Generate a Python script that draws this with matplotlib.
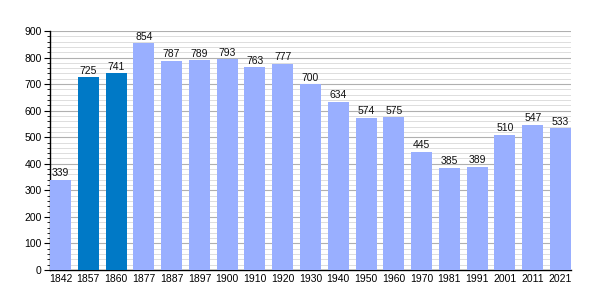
import matplotlib
matplotlib.use('Agg')
import matplotlib.pyplot as plt
from matplotlib.ticker import MultipleLocator

years = ['1842', '1857', '1860', '1877', '1887', '1897', '1900', '1910', '1920', '1930',
         '1940', '1950', '1960', '1970', '1981', '1991', '2001', '2011', '2021']
pop = [339, 725, 741, 854, 787, 789, 793, 763, 777, 700,
       634, 574, 575, 445, 385, 389, 510, 547, 533]
dark_years = ['1857', '1860']

plt.rcParams['font.family'] = ['Liberation Sans', 'DejaVu Sans']

fig = plt.figure(figsize=(6, 3), dpi=100)
ax = fig.add_axes([50/600, 30/300, 521/600, 239/300])

w = 0.757
x = list(range(len(years)))
cols = ['#0079c6' if y in dark_years else '#99afff' for y in years]
ax.bar(x, pop, width=w, color=cols, zorder=3)
for xi, v in zip(x, pop):
    ax.text(xi, v + 6, str(v), ha='center', va='bottom', fontsize=7.5, color='#111111', zorder=4)

ax.set_xlim(-w/2, len(years) - 1 + w/2)
ax.set_ylim(0, 900)
ax.yaxis.set_major_locator(MultipleLocator(100))
ax.yaxis.set_minor_locator(MultipleLocator(20))
ax.grid(axis='y', which='major', color='#b0b0b0', lw=0.8, zorder=0)
ax.grid(axis='y', which='minor', color='#dddddd', lw=0.7, zorder=0)
ax.set_xticks(x)
ax.set_xticklabels(years)
ax.tick_params(axis='x', length=0, labelsize=7.5, pad=3)
ax.tick_params(axis='y', which='major', length=4, labelsize=7.5, pad=2)
ax.tick_params(axis='y', which='minor', length=2)
for s in ('top', 'right'):
    ax.spines[s].set_visible(False)
ax.spines['left'].set_linewidth(1)
ax.spines['bottom'].set_linewidth(1)

fig.savefig('out.png', dpi=100)
